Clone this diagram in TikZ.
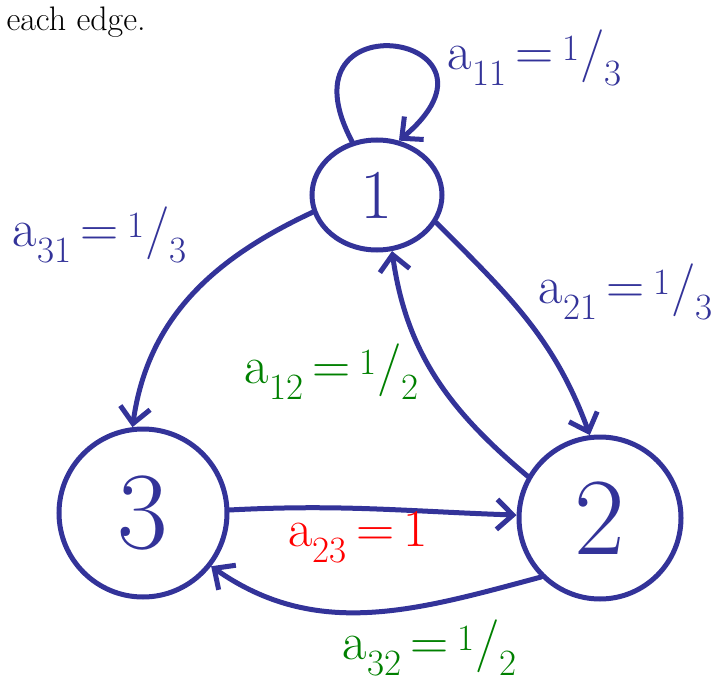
\documentclass[tikz,border=0pt]{standalone}
\usepackage{fontspec}
\usetikzlibrary{arrows.meta,shapes.geometric}
\definecolor{penblue}{HTML}{333399}
\definecolor{pengreen}{HTML}{008000}
\definecolor{penred}{HTML}{FF0000}

\begin{document}
\begin{tikzpicture}[
    x=1pt, y=-1pt,
    state/.style={circle, draw=penblue, line width=5pt, inner sep=0pt,
      minimum size=162pt, text=penblue, font=\fontsize{110}{110}\selectfont},
    edge/.style={-{Straight Barb[length=16pt, width=30pt, line width=5pt]},
      line width=5pt, draw=penblue, line cap=round},
    weight/.style={font=\fontsize{53}{53}\selectfont, inner sep=0pt},
  ]
    \useasboundingbox (0,0) rectangle (723,690);
    \node[anchor=base west, font=\fontsize{34}{34}\selectfont] (caption) at (3,31) {each edge.};

    \node[state, ellipse, minimum width=130pt, minimum height=110pt,
      font=\fontsize{70}{70}\selectfont] (one) at (377,195) {1};
    \node[state] (two) at (600,518) {2};
    \node[state, minimum size=168pt] (three) at (143,513) {3};

    \draw[edge] (one.115) to[out=118, in=40, looseness=9] (one.68);
    \draw[edge] (one.195) to[out=205, in=82] (three.97);
    \draw[edge] (one.-25) to[out=-45, in=110] (two.97);
    \draw[edge] (two.150) to[out=140, in=-82] (one.-75);
    \draw[edge] (three.2) to[out=3, in=178] (two.178);
    \draw[edge] (two.225) to[out=195, in=-35] (three.-38);

    \node[weight, text=penblue] (w11) at (535,58) {a\textsubscript{11}\,=\,\textsuperscript{1}/\textsubscript{3}};
    \node[weight, text=penblue] (w31) at (100,235) {a\textsubscript{31}\,=\,\textsuperscript{1}/\textsubscript{3}};
    \node[weight, text=penblue] (w21) at (626,292) {a\textsubscript{21}\,=\,\textsuperscript{1}/\textsubscript{3}};
    \node[weight, text=pengreen] (w12) at (332,372) {a\textsubscript{12}\,=\,\textsuperscript{1}/\textsubscript{2}};
    \node[weight, text=penred] (w23) at (358,537) {a\textsubscript{23}\,=\,1};
    \node[weight, text=pengreen] (w32) at (430,648) {a\textsubscript{32}\,=\,\textsuperscript{1}/\textsubscript{2}};
\end{tikzpicture}
\end{document}
